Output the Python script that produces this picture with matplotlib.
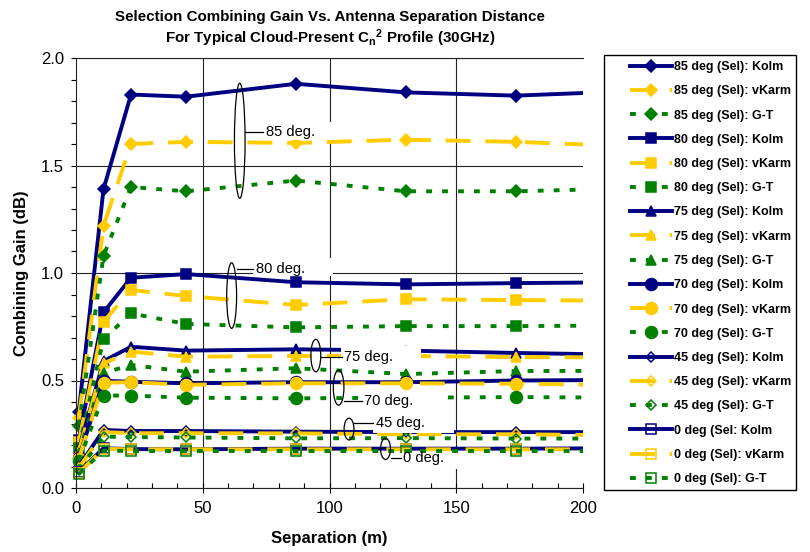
import matplotlib
matplotlib.use("Agg")
import matplotlib.pyplot as plt
from matplotlib.patches import Ellipse, Rectangle
from matplotlib.transforms import Bbox, TransformedBbox
from matplotlib.ticker import MultipleLocator

plt.rcParams['font.family'] = ['Liberation Sans', 'DejaVu Sans']
plt.rcParams['mathtext.fontset'] = 'custom'
plt.rcParams['mathtext.rm'] = 'Liberation Sans:bold'
plt.rcParams['mathtext.bf'] = 'Liberation Sans:bold'
plt.rcParams['mathtext.it'] = 'Liberation Sans:bold'

# antenna separation (m); the last sample lies past the 200 m axis limit
separation = [1.085, 10.85, 21.7, 43.4, 86.8, 130.2, 173.6, 217.0]

angles = ['85', '80', '75', '70', '45', '0']

# selection combining gain (dB) per elevation angle and turbulence spectrum
kolm_85 = [0.355, 1.39, 1.83, 1.82, 1.88, 1.84, 1.825, 1.845]
vkarm_85 = [0.325, 1.22, 1.60, 1.61, 1.605, 1.62, 1.61, 1.59]
gt_85 = [0.29, 1.08, 1.40, 1.38, 1.43, 1.38, 1.38, 1.393]

kolm_80 = [0.225, 0.817, 0.978, 0.995, 0.957, 0.947, 0.953, 0.957]
vkarm_80 = [0.215, 0.774, 0.921, 0.893, 0.851, 0.878, 0.874, 0.871]
gt_80 = [0.185, 0.693, 0.812, 0.763, 0.747, 0.753, 0.753, 0.756]

kolm_75 = [0.18, 0.59, 0.657, 0.639, 0.645, 0.639, 0.628, 0.62]
vkarm_75 = [0.17, 0.58, 0.634, 0.611, 0.614, 0.614, 0.609, 0.607]
gt_75 = [0.16, 0.535, 0.572, 0.541, 0.557, 0.530, 0.544, 0.545]

kolm_70 = [0.14, 0.499, 0.494, 0.487, 0.492, 0.492, 0.50, 0.503]
vkarm_70 = [0.135, 0.49, 0.492, 0.48, 0.487, 0.487, 0.485, 0.478]
gt_70 = [0.125, 0.43, 0.43, 0.42, 0.417, 0.42, 0.423, 0.42]

kolm_45 = [0.10, 0.27, 0.265, 0.265, 0.262, 0.26, 0.26, 0.26]
vkarm_45 = [0.092, 0.26, 0.255, 0.255, 0.254, 0.25, 0.25, 0.245]
gt_45 = [0.085, 0.239, 0.237, 0.235, 0.231, 0.232, 0.23, 0.23]

kolm_0 = [0.075, 0.185, 0.181, 0.18, 0.183, 0.183, 0.183, 0.185]
vkarm_0 = [0.07, 0.182, 0.18, 0.18, 0.18, 0.18, 0.18, 0.18]
gt_0 = [0.065, 0.174, 0.172, 0.172, 0.172, 0.172, 0.172, 0.172]

gains = [
    (kolm_85, vkarm_85, gt_85),
    (kolm_80, vkarm_80, gt_80),
    (kolm_75, vkarm_75, gt_75),
    (kolm_70, vkarm_70, gt_70),
    (kolm_45, vkarm_45, gt_45),
    (kolm_0, vkarm_0, gt_0),
]

legend_labels = [
    '85 deg (Sel): Kolm', '85 deg (Sel): vKarm', '85 deg (Sel): G-T',
    '80 deg (Sel): Kolm', '80 deg (Sel): vKarm', '80 deg (Sel): G-T',
    '75 deg (Sel): Kolm', '75 deg (Sel): vKarm', '75 deg (Sel): G-T',
    '70 deg (Sel): Kolm', '70 deg (Sel): vKarm', '70 deg (Sel): G-T',
    '45 deg (Sel): Kolm', '45 deg (Sel): vKarm', '45 deg (Sel): G-T',
    '0 deg (Sel: Kolm', '0 deg (Sel): vKarm', '0 deg (Sel): G-T',
]

NAVY = '#000080'
GOLD = '#FFCC00'
GREEN = '#008000'

markers = ['D', 's', '^', 'o', 'D', 's']
msizes = [6.2, 7.6, 7.8, 8.6, 5.0, 6.8]
filled = [True, True, True, True, False, False]
styles = [
    (NAVY, '-'),
    (GOLD, (0, (6.4, 3.8))),
    (GREEN, (0, (1.5, 2.6))),
]

fig = plt.figure(figsize=(8.1, 5.52), dpi=100)
ax = fig.add_axes([76 / 810, 1 - 488 / 552, (583 - 76) / 810, (488 - 58) / 552])
ax.set_xlim(0, 200)
ax.set_ylim(0, 2.0)

# lines stop at 200 m, but the first markers may hang over the y axis
clip = TransformedBbox(Bbox.from_extents(-5, -0.1, 200, 2.1), ax.transData)

handles = []
for i, series in enumerate(gains):
    for vals, (col, ls) in zip(series, styles):
        face = col if filled[i] else 'none'
        ln, = ax.plot(separation, vals, color=col, linestyle=ls, lw=2.8,
                      marker=markers[i], ms=msizes[i], mfc=face, mec=col,
                      mew=1.1, markevery=list(range(7)))
        ln.set_clip_path(None)
        ln.set_clip_box(clip)
        handles.append(ln)

# axes, ticks and grid
ax.xaxis.set_major_locator(MultipleLocator(50))
ax.xaxis.set_minor_locator(MultipleLocator(10))
ax.yaxis.set_major_locator(MultipleLocator(0.5))
ax.yaxis.set_minor_locator(MultipleLocator(0.1))
ax.yaxis.set_major_formatter(matplotlib.ticker.FormatStrFormatter('%.1f'))
ax.tick_params(axis='x', which='major', direction='inout', length=7, width=0.8,
               labelsize=12, pad=6)
ax.tick_params(axis='x', which='minor', direction='in', length=3.5, width=0.8)
ax.tick_params(axis='y', which='both', direction='out', length=3.6, width=0.8,
               labelsize=12, pad=5)
ax.grid(True, axis='y', which='major', color='#222222', lw=0.8, zorder=0)
for xv in [50, 100, 150]:
    ax.axvline(xv, color='#222222', lw=0.8, zorder=0)
ax.set_axisbelow(True)
ax.spines['right'].set_visible(False)
for s in ['left', 'bottom', 'top']:
    ax.spines[s].set_linewidth(0.8)
    ax.spines[s].set_color('#222222')

# elevation-angle callouts: ellipse, leader line, boxed label
callouts = [
    ('85 deg.', (64.6, 1.615, 4.2, 0.535), (66.7, 73.9, 1.657), (73.8, 101.0, 1.619, 1.702)),
    ('80 deg.', (61.4, 0.895, 3.9, 0.305), (63.4, 69.9, 1.019), (69.8, 101.4, 0.985, 1.070)),
    ('75 deg.', (94.6, 0.616, 3.9, 0.151), (96.5, 104.8, 0.611), (104.5, 136.1, 0.563, 0.660)),
    ('70 deg.', (103.6, 0.467, 4.2, 0.163), (105.7, 112.7, 0.405), (112.4, 144.0, 0.360, 0.450)),
    ('45 deg.', (107.7, 0.274, 3.9, 0.101), (109.7, 117.3, 0.301), (117.0, 149.1, 0.258, 0.350)),
    ('0 deg.', (122.1, 0.182, 3.9, 0.098), (124.1, 128.1, 0.138), (127.8, 155.4, 0.090, 0.165)),
]
for text, (ex, ey, ew, eh), (lx0, lx1, ly), (bx0, bx1, by0, by1) in callouts:
    ax.add_patch(Rectangle((bx0, by0), bx1 - bx0, by1 - by0, facecolor='white',
                           edgecolor='none', zorder=20))
    ax.add_patch(Ellipse((ex, ey), ew, eh, fill=False, edgecolor='black',
                         lw=0.9, zorder=21))
    ax.plot([lx0, lx1], [ly, ly], color='black', lw=0.9, zorder=21)
    ax.text(lx1 + 1.0, ly, text, fontsize=10.5, va='center', ha='left', zorder=22)

# titles and axis labels
fig.text(330 / 810, 1 - 17 / 552, 'Selection Combining Gain Vs. Antenna Separation Distance',
         ha='center', va='center', fontsize=10.9, fontweight='bold')
fig.text(330 / 810, 1 - 38 / 552,
         r'For Typical Cloud-Present C$_\mathrm{n}$$^\mathrm{2}$ Profile (30GHz)',
         ha='center', va='center', fontsize=10.9, fontweight='bold')
fig.text(22 / 810, 1 - 273 / 552, 'Combining Gain (dB)', rotation=90,
         ha='center', va='center', fontsize=12, fontweight='bold')
fig.text(329 / 810, 1 - 539 / 552, 'Separation (m)',
         ha='center', va='center', fontsize=12, fontweight='bold')

# legend in its own box to the right
fig.add_artist(Rectangle((604 / 810, 1 - 490 / 552), 192 / 810, 435 / 552,
                         transform=fig.transFigure, fill=False,
                         edgecolor='black', lw=1))
fig.legend(handles, legend_labels, loc='upper left',
           bbox_to_anchor=(630 / 810, 1 - 61 / 552), frameon=False,
           prop=dict(weight='bold', size=9), handlelength=3.36,
           handletextpad=0.15, labelspacing=0.98, borderpad=0,
           borderaxespad=0)

fig.savefig('out.png', dpi=100)
